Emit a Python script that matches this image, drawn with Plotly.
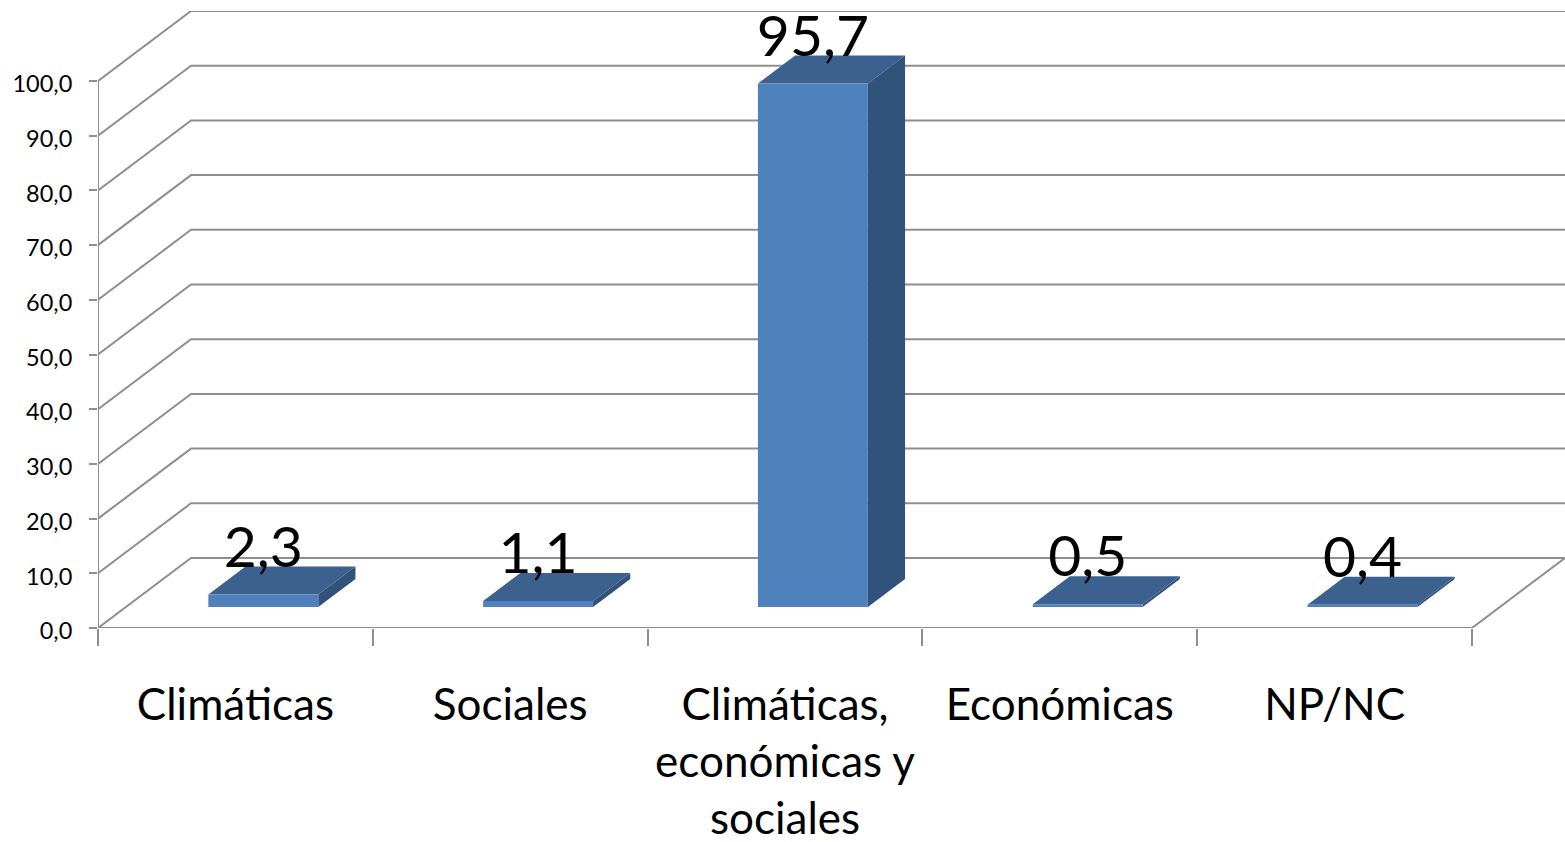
import plotly.graph_objects as go

categories = ["Climáticas", "Sociales", "Climáticas,<br>económicas y<br>sociales", "Económicas", "NP/NC"]
values = [2.3, 1.1, 95.7, 0.5, 0.4]
value_labels = ["2,3", "1,1", "95,7", "0,5", "0,4"]
y_ticks = list(range(0, 101, 10))
y_tick_labels = [f"{v},0" for v in y_ticks]

W, H = 1565, 842
L, B, T = 98, 214, 11
UX = 274.8          # px per category
UY = 5.47           # px per value unit
DX = 93 / UX        # chart depth in x units
DY = 70 / UY        # chart depth in y units
BAR_W = 0.40
FLOOR = 0.30        # share of the depth at which bars stand
BAR_DEPTH = 0.40    # share of the depth used by bars
GRID = "#8E8E8E"

fig = go.Figure()

# walls and floor
gx, gy = [], []
for v in y_ticks:
    gx += [0, DX, 5 + DX, None]
    gy += [v, v + DY, v + DY, None]
gx += [0, 5, 5 + DX, None, 0, 0]
gy += [0, 0, DY, None, 0, 100]
fig.add_trace(go.Scatter(x=gx, y=gy, mode="lines", line=dict(color=GRID, width=2),
                         hoverinfo="skip", cliponaxis=False))

front_x, front_y, top_x, top_y, side_x, side_y = [], [], [], [], [], []
for i, v in enumerate(values):
    x0 = i + 0.5 - BAR_W / 2 + FLOOR * DX
    x1 = x0 + BAR_W
    y0 = FLOOR * DY
    y1 = y0 + v
    ox, oy = BAR_DEPTH * DX, BAR_DEPTH * DY
    front_x += [x0, x1, x1, x0, x0, None]
    front_y += [y0, y0, y1, y1, y0, None]
    top_x += [x0, x1, x1 + ox, x0 + ox, x0, None]
    top_y += [y1, y1, y1 + oy, y1 + oy, y1, None]
    side_x += [x1, x1 + ox, x1 + ox, x1, x1, None]
    side_y += [y0, y0 + oy, y1 + oy, y1, y0, None]

for xs, ys, col in [(side_x, side_y, "#31527A"), (top_x, top_y, "#3C618F"), (front_x, front_y, "#4F81BD")]:
    fig.add_trace(go.Scatter(x=xs, y=ys, mode="lines", fill="toself", fillcolor=col,
                             line=dict(width=0, color=col), hoverinfo="skip"))

# data labels
fig.add_trace(go.Scatter(
    x=[i + 0.5 + FLOOR * DX for i in range(len(values))],
    y=[FLOOR * DY + v + 7.7 for v in values],
    mode="text", text=value_labels, textposition="middle center",
    textfont=dict(family="Lato", size=57, color="#000000"), hoverinfo="skip", cliponaxis=False))

fig.update_layout(
    width=W, height=H, showlegend=False, paper_bgcolor="white", plot_bgcolor="white",
    margin=dict(l=L, r=0, t=T, b=B, autoexpand=False),
    xaxis=dict(range=[0, 5 + DX], tickmode="array", tickvals=[i + 0.5 for i in range(5)],
               ticktext=categories, ticks="", showgrid=False, zeroline=False, showline=False,
               tickfont=dict(family="Lato", size=44, color="#000000"), ticklabelstandoff=47,
               minor=dict(tickmode="array", tickvals=list(range(6)), ticks="outside", ticklen=17,
                          tickwidth=2, tickcolor=GRID, showgrid=False)),
    yaxis=dict(range=[0, 100 + DY], tickmode="array", tickvals=y_ticks, ticktext=y_tick_labels,
               ticks="outside", ticklen=8, tickwidth=2, tickcolor=GRID, showgrid=False,
               zeroline=False, showline=False, ticklabelstandoff=12, ticklabelshift=3,
               tickfont=dict(family="Lato", size=23.5, color="#000000")),
)

fig.write_html("out.html", config=dict(displayModeBar=False),
               post_script="document.body.style.margin='0';document.documentElement.style.overflow='hidden';")
